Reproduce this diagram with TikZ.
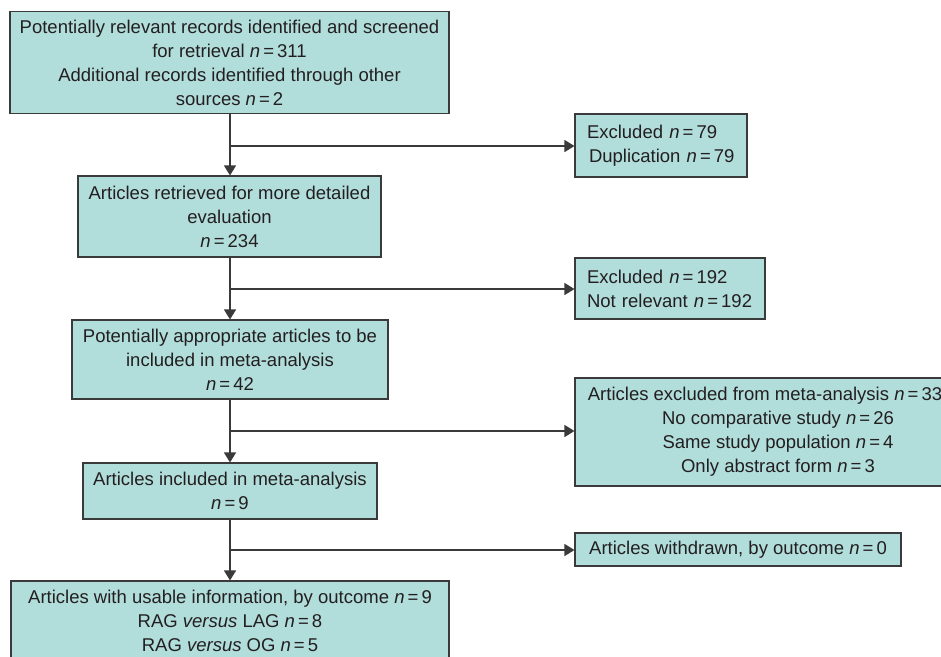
\documentclass[tikz,border=0pt]{standalone}
\usepackage{fontspec}
\setmainfont{Liberation Sans}
\usetikzlibrary{arrows.meta}
\definecolor{boxfill}{HTML}{B1DDDB}
\definecolor{edgecol}{HTML}{3A3A3A}
\definecolor{ink}{HTML}{231F20}
\newcommand{\nn}[1]{\textit{n}\,=\,#1}
\begin{document}
\begin{tikzpicture}[x=1pt,y=-1pt,
  box/.style={draw=edgecol, fill=boxfill, line width=1.1pt, text=ink, inner sep=0pt, align=center,
    font=\fontsize{18.5}{24}\selectfont},
  lbox/.style={box, align=left, inner xsep=12pt},
  conn/.style={draw=edgecol, line width=1.1pt},
  arr/.style={conn, -{Triangle[length=10pt,width=12pt]}}]
\clip (0,0) rectangle (941,656);
\fill[white] (0,0) rectangle (941,656);

\node[box, minimum width=439pt, minimum height=102pt] (b1) at (229.5,62.5)
  {Potentially relevant records identified and screened\\ for retrieval \nn{311}\\ Additional records identified through other\\ sources \nn{2}};
\node[box, minimum width=303pt, minimum height=81pt] (b2) at (229.5,216.5)
  {Articles retrieved for more detailed\\ evaluation\\ \nn{234}};
\node[box, minimum width=316pt, minimum height=79pt] (b3) at (230,359.5)
  {Potentially appropriate articles to be\\ included in meta-analysis\\ \nn{42}};
\node[box, minimum width=294pt, minimum height=56pt] (b4) at (230,491)
  {Articles included in meta-analysis\\ \nn{9}};
\node[box, minimum width=438pt, minimum height=80pt] (b5) at (230,621)
  {Articles with usable information, by outcome \nn{9}\\ RAG \textit{versus} LAG \nn{8}\\ RAG \textit{versus} OG \nn{5}};

\node[lbox, text width=148pt, minimum height=63pt] (e1) at (661,145.5)
  {Excluded \nn{79}\\ \hspace{2pt}Duplication \nn{79}};
\node[lbox, text width=166pt, minimum height=61pt] (e2) at (670,288.5)
  {Excluded \nn{192}\\ Not relevant \nn{192}};
\node[box, minimum width=406pt, minimum height=108pt] (e3) at (778,432)
  {Articles excluded from meta-analysis \nn{33}\hspace*{26pt}\\ No comparative study \nn{26}\\ Same study population \nn{4}\\ Only abstract form \nn{3}};
\node[box, minimum width=326pt, minimum height=33pt] (e4) at (738,549.5)
  {Articles withdrawn, by outcome \nn{0}};

\coordinate (j1) at (230,146);
\coordinate (j2) at (230,289);
\coordinate (j3) at (230,431);
\coordinate (j4) at (230,550);

\draw[arr] (b1.south -| j1) -- (b2.north -| j1);
\draw[arr] (b2.south -| j1) -- (b3.north -| j1);
\draw[arr] (b3.south -| j1) -- (b4.north -| j1);
\draw[arr] (b4.south -| j1) -- (b5.north -| j1);

\draw[arr] (j1) -- (j1 -| e1.west);
\draw[arr] (j2) -- (j2 -| e2.west);
\draw[arr] (j3) -- (j3 -| e3.west);
\draw[arr] (j4) -- (j4 -| e4.west);
\end{tikzpicture}
\end{document}
